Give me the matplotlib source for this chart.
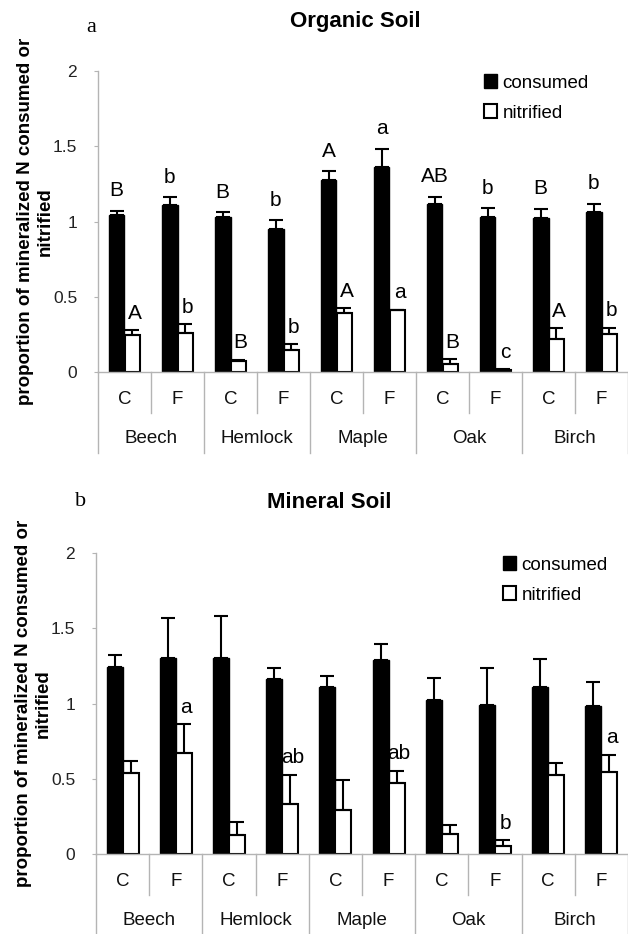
import numpy as np
import matplotlib.pyplot as plt
from matplotlib.patches import Patch

plt.rcParams['font.family'] = ['Liberation Sans', 'DejaVu Sans']

species = ['Beech', 'Hemlock', 'Maple', 'Oak', 'Birch']
treatments = ['C', 'F']

# organic soil
org_consumed = [1.04, 1.11, 1.03, 0.95, 1.275, 1.365, 1.115, 1.03, 1.02, 1.06]
org_consumed_err = [0.03, 0.05, 0.03, 0.057, 0.06, 0.117, 0.049, 0.058, 0.066, 0.057]
org_nitrified = [0.245, 0.26, 0.07, 0.145, 0.39, 0.41, 0.055, 0.015, 0.22, 0.255]
org_nitrified_err = [0.033, 0.058, 0.013, 0.038, 0.033, 0.005, 0.029, 0.004, 0.071, 0.038]
org_consumed_letters = ['B', 'b', 'B', 'b', 'A', 'a', 'AB', 'b', 'B', 'b']
org_nitrified_letters = ['A', 'b', 'B', 'b', 'A', 'a', 'B', 'c', 'A', 'b']

# mineral soil
min_consumed = [1.24, 1.30, 1.30, 1.16, 1.11, 1.29, 1.02, 0.99, 1.11, 0.985]
min_consumed_err = [0.085, 0.27, 0.28, 0.077, 0.076, 0.106, 0.148, 0.248, 0.186, 0.159]
min_nitrified = [0.535, 0.67, 0.125, 0.33, 0.295, 0.47, 0.135, 0.055, 0.525, 0.545]
min_nitrified_err = [0.082, 0.193, 0.09, 0.197, 0.2, 0.084, 0.059, 0.035, 0.078, 0.115]
min_consumed_letters = [''] * 10
min_nitrified_letters = ['', 'a', '', 'ab', '', 'ab', '', 'b', '', 'a']

GRID = '#b4b4b4'
W = 628
H = 934


def panel(ax, cons, cons_err, nitr, nitr_err, cons_lab, nitr_lab,
          title, letter, title_xy, letter_xy, leg_xy):
    n = len(cons)
    x = np.arange(n) + 0.5
    bw = 0.3
    ax.bar(x - bw / 2, cons, bw, color='black', edgecolor='black', zorder=2)
    ax.bar(x + bw / 2, nitr, bw, color='white', edgecolor='black',
           linewidth=1.5, zorder=2)
    ax.errorbar(x - bw / 2, cons, yerr=[np.zeros(n), cons_err], fmt='none',
                ecolor='black', elinewidth=1.5, capsize=5, capthick=1.5, zorder=3)
    ax.errorbar(x + bw / 2, nitr, yerr=[np.zeros(n), nitr_err], fmt='none',
                ecolor='black', elinewidth=1.5, capsize=5, capthick=1.5, zorder=3)

    for i in range(n):
        if cons_lab[i]:
            ax.text(x[i] - bw / 2, cons[i] + cons_err[i] + 0.07, cons_lab[i],
                    ha='center', va='bottom', fontsize=15, zorder=1)
        if nitr_lab[i]:
            ax.text(x[i] + bw / 2 + 0.04, nitr[i] + nitr_err[i] + 0.05, nitr_lab[i],
                    ha='center', va='bottom', fontsize=15, zorder=1)

    ax.set_xlim(0, n)
    ax.set_ylim(0, 2)
    ax.set_yticks([0, 0.5, 1, 1.5, 2])
    ax.set_yticklabels(['0', '0.5', '1', '1.5', '2'])
    ax.tick_params(axis='y', labelsize=12.5, color=GRID, length=3, pad=12,
                   labelcolor='#222222')
    ax.set_xticks([])
    for s in ['top', 'right']:
        ax.spines[s].set_visible(False)
    for s in ['left', 'bottom']:
        ax.spines[s].set_color(GRID)
        ax.spines[s].set_linewidth(1.0)

    # category axis below the plot
    tr = ax.get_xaxis_transform()
    for i in range(n + 1):
        low = -0.136 if i % 2 == 1 else -0.27
        ax.plot([i, i], [0, low], transform=tr, color=GRID, lw=1.0,
                clip_on=False)
    for i in range(n):
        ax.text(x[i], -0.09, treatments[i % 2], transform=tr, ha='center',
                va='center', fontsize=13.5, color='#111111')
    for g, name in enumerate(species):
        ax.text(2 * g + 1, -0.222, name, transform=tr, ha='center',
                va='center', fontsize=13.5, color='#111111')

    ax.set_ylabel('proportion of mineralized N consumed or\nnitrified',
                  fontsize=13.5, fontweight='bold', linespacing=1.2)
    ax.yaxis.set_label_coords(-0.083, 0.5)

    fig.text(title_xy[0], title_xy[1], title, ha='center',
             va='center', fontsize=16, fontweight='bold')
    fig.text(letter_xy[0], letter_xy[1], letter, ha='left', va='center',
             fontsize=16, family=['Liberation Serif', 'DejaVu Serif'])

    handles = [Patch(facecolor='black', edgecolor='black'),
               Patch(facecolor='white', edgecolor='black', linewidth=1.5)]
    ax.legend(handles, ['consumed', 'nitrified'], loc='upper left',
              bbox_to_anchor=leg_xy, frameon=False, fontsize=13.5,
              handlelength=0.7, handleheight=0.8, handletextpad=0.3,
              labelspacing=0.65, borderpad=0, borderaxespad=0)


fig = plt.figure(figsize=(W / 100, H / 100), dpi=100)

ax1 = fig.add_axes([98 / W, (H - 372) / H, 530 / W, 301 / H])
panel(ax1, org_consumed, org_consumed_err, org_nitrified, org_nitrified_err,
      org_consumed_letters, org_nitrified_letters,
      'Organic Soil', 'a', (355 / W, (H - 21) / H), (86 / W, (H - 28) / H),
      (0.728, 0.99))

ax2 = fig.add_axes([96 / W, (H - 854) / H, 532 / W, 301 / H])
panel(ax2, min_consumed, min_consumed_err, min_nitrified, min_nitrified_err,
      min_consumed_letters, min_nitrified_letters,
      'Mineral Soil', 'b', (329 / W, (H - 503) / H), (75 / W, (H - 502) / H),
      (0.765, 0.99))

fig.savefig('out.png', dpi=100)
